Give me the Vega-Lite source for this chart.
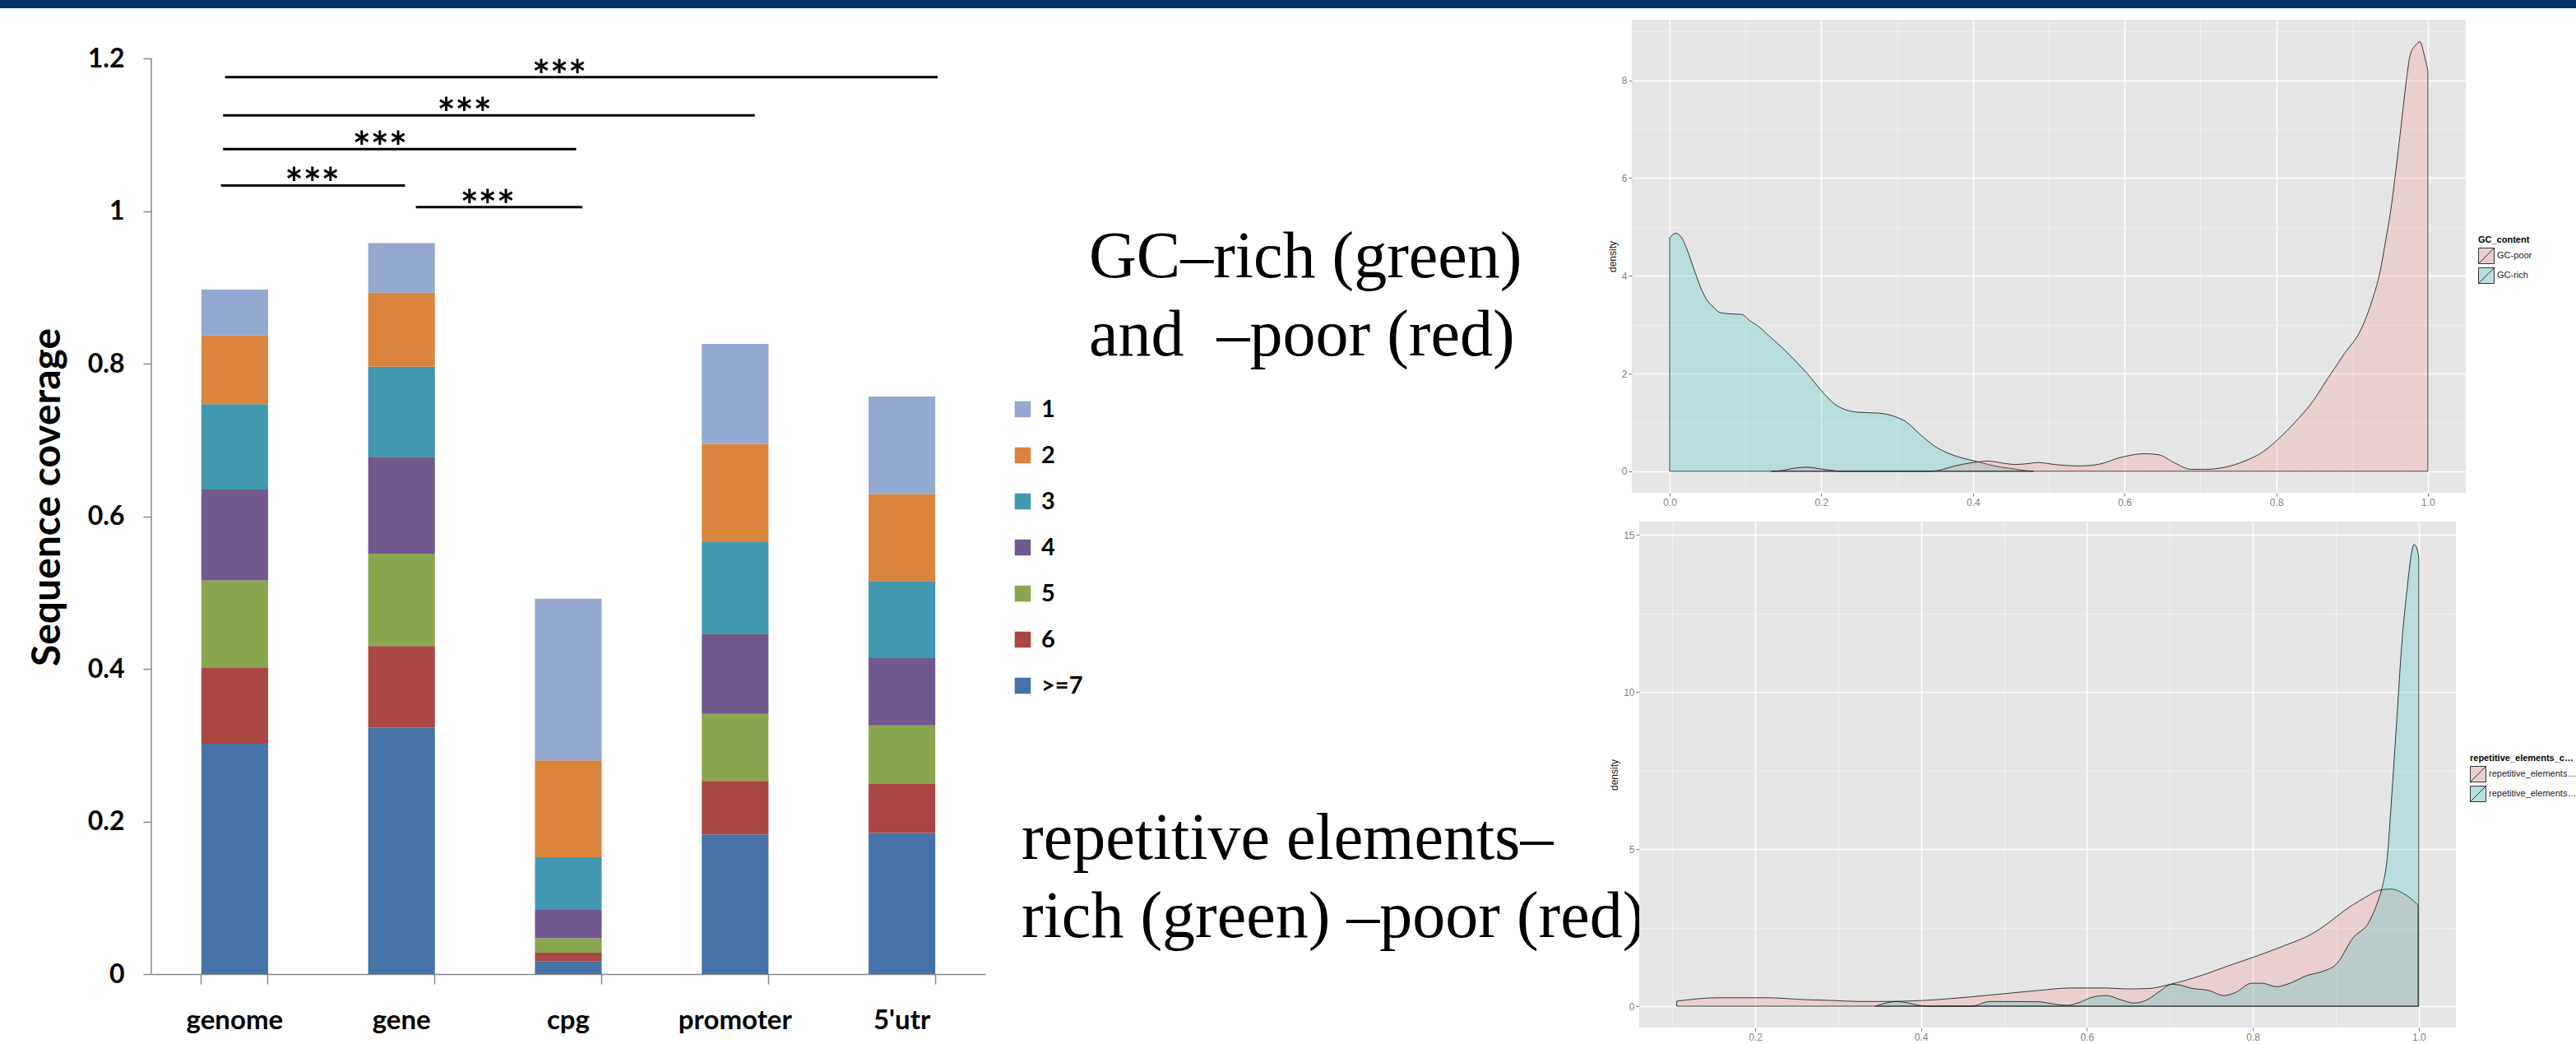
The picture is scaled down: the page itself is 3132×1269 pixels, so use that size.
{
  "$schema": "https://vega.github.io/schema/vega-lite/v6.json",
  "padding": 0,
  "background": "white",
  "bounds": "flush",
  "spacing": 14,
  "config": {"view": {"stroke": null}},
  "datasets": {
    "coverage": [
      {"region": "genome", "level": ">=7", "k": 7, "coverage": 0.302},
      {"region": "genome", "level": "6", "k": 6, "coverage": 0.100},
      {"region": "genome", "level": "5", "k": 5, "coverage": 0.114},
      {"region": "genome", "level": "4", "k": 4, "coverage": 0.119},
      {"region": "genome", "level": "3", "k": 3, "coverage": 0.112},
      {"region": "genome", "level": "2", "k": 2, "coverage": 0.090},
      {"region": "genome", "level": "1", "k": 1, "coverage": 0.060},
      {"region": "gene", "level": ">=7", "k": 7, "coverage": 0.323},
      {"region": "gene", "level": "6", "k": 6, "coverage": 0.107},
      {"region": "gene", "level": "5", "k": 5, "coverage": 0.121},
      {"region": "gene", "level": "4", "k": 4, "coverage": 0.127},
      {"region": "gene", "level": "3", "k": 3, "coverage": 0.118},
      {"region": "gene", "level": "2", "k": 2, "coverage": 0.097},
      {"region": "gene", "level": "1", "k": 1, "coverage": 0.065},
      {"region": "cpg", "level": ">=7", "k": 7, "coverage": 0.017},
      {"region": "cpg", "level": "6", "k": 6, "coverage": 0.011},
      {"region": "cpg", "level": "5", "k": 5, "coverage": 0.019},
      {"region": "cpg", "level": "4", "k": 4, "coverage": 0.037},
      {"region": "cpg", "level": "3", "k": 3, "coverage": 0.069},
      {"region": "cpg", "level": "2", "k": 2, "coverage": 0.127},
      {"region": "cpg", "level": "1", "k": 1, "coverage": 0.212},
      {"region": "promoter", "level": ">=7", "k": 7, "coverage": 0.183},
      {"region": "promoter", "level": "6", "k": 6, "coverage": 0.070},
      {"region": "promoter", "level": "5", "k": 5, "coverage": 0.088},
      {"region": "promoter", "level": "4", "k": 4, "coverage": 0.105},
      {"region": "promoter", "level": "3", "k": 3, "coverage": 0.120},
      {"region": "promoter", "level": "2", "k": 2, "coverage": 0.129},
      {"region": "promoter", "level": "1", "k": 1, "coverage": 0.131},
      {"region": "5'utr", "level": ">=7", "k": 7, "coverage": 0.185},
      {"region": "5'utr", "level": "6", "k": 6, "coverage": 0.064},
      {"region": "5'utr", "level": "5", "k": 5, "coverage": 0.077},
      {"region": "5'utr", "level": "4", "k": 4, "coverage": 0.088},
      {"region": "5'utr", "level": "3", "k": 3, "coverage": 0.101},
      {"region": "5'utr", "level": "2", "k": 2, "coverage": 0.114},
      {"region": "5'utr", "level": "1", "k": 1, "coverage": 0.128}
    ],
    "significance": [
      {"left": 0.442, "right": 4.714, "starAt": 2.446, "height": 1.1755, "stars": "***"},
      {"left": 0.430, "right": 3.618, "starAt": 1.877, "height": 1.1254, "stars": "***"},
      {"left": 0.430, "right": 2.547, "starAt": 1.370, "height": 1.0811, "stars": "***"},
      {"left": 0.417, "right": 1.521, "starAt": 0.965, "height": 1.0335, "stars": "***"},
      {"left": 1.586, "right": 2.584, "starAt": 2.016, "height": 1.0051, "stars": "***"}
    ],
    "captions": [
      {"block": "GC", "caption": "GC–rich (green)\nand \u00a0–poor (red)"},
      {"block": "repetitive", "caption": "repetitive elements–\nrich (green) –poor (red)"}
    ],
    "gcDensity": [
      {"gc": 0, "density": 4.78, "GC_content": "GC-rich"},
      {"gc": 0.0077, "density": 4.87, "GC_content": "GC-rich"},
      {"gc": 0.015, "density": 4.80, "GC_content": "GC-rich"},
      {"gc": 0.0228, "density": 4.54, "GC_content": "GC-rich"},
      {"gc": 0.0337, "density": 4.06, "GC_content": "GC-rich"},
      {"gc": 0.0409, "density": 3.76, "GC_content": "GC-rich"},
      {"gc": 0.0481, "density": 3.53, "GC_content": "GC-rich"},
      {"gc": 0.0589, "density": 3.34, "GC_content": "GC-rich"},
      {"gc": 0.0661, "density": 3.25, "GC_content": "GC-rich"},
      {"gc": 0.0806, "density": 3.22, "GC_content": "GC-rich"},
      {"gc": 0.095, "density": 3.21, "GC_content": "GC-rich"},
      {"gc": 0.1058, "density": 3.08, "GC_content": "GC-rich"},
      {"gc": 0.1167, "density": 2.97, "GC_content": "GC-rich"},
      {"gc": 0.131, "density": 2.77, "GC_content": "GC-rich"},
      {"gc": 0.149, "density": 2.52, "GC_content": "GC-rich"},
      {"gc": 0.167, "density": 2.24, "GC_content": "GC-rich"},
      {"gc": 0.182, "density": 1.99, "GC_content": "GC-rich"},
      {"gc": 0.2, "density": 1.65, "GC_content": "GC-rich"},
      {"gc": 0.218, "density": 1.37, "GC_content": "GC-rich"},
      {"gc": 0.232, "density": 1.26, "GC_content": "GC-rich"},
      {"gc": 0.247, "density": 1.21, "GC_content": "GC-rich"},
      {"gc": 0.276, "density": 1.19, "GC_content": "GC-rich"},
      {"gc": 0.297, "density": 1.12, "GC_content": "GC-rich"},
      {"gc": 0.312, "density": 1.01, "GC_content": "GC-rich"},
      {"gc": 0.33, "density": 0.76, "GC_content": "GC-rich"},
      {"gc": 0.348, "density": 0.53, "GC_content": "GC-rich"},
      {"gc": 0.369, "density": 0.36, "GC_content": "GC-rich"},
      {"gc": 0.384, "density": 0.28, "GC_content": "GC-rich"},
      {"gc": 0.405, "density": 0.20, "GC_content": "GC-rich"},
      {"gc": 0.42, "density": 0.14, "GC_content": "GC-rich"},
      {"gc": 0.438, "density": 0.084, "GC_content": "GC-rich"},
      {"gc": 0.456, "density": 0.045, "GC_content": "GC-rich"},
      {"gc": 0.47, "density": 0.012, "GC_content": "GC-rich"},
      {"gc": 0.48, "density": 0, "GC_content": "GC-rich"},
      {"gc": 0.134, "density": 0, "GC_content": "GC-poor"},
      {"gc": 0.15, "density": 0.02, "GC_content": "GC-poor"},
      {"gc": 0.166, "density": 0.067, "GC_content": "GC-poor"},
      {"gc": 0.181, "density": 0.084, "GC_content": "GC-poor"},
      {"gc": 0.2, "density": 0.045, "GC_content": "GC-poor"},
      {"gc": 0.218, "density": 0.01, "GC_content": "GC-poor"},
      {"gc": 0.224, "density": 0, "GC_content": "GC-poor"},
      {"gc": 0.344, "density": 0, "GC_content": "GC-poor"},
      {"gc": 0.355, "density": 0.02, "GC_content": "GC-poor"},
      {"gc": 0.376, "density": 0.11, "GC_content": "GC-poor"},
      {"gc": 0.401, "density": 0.18, "GC_content": "GC-poor"},
      {"gc": 0.42, "density": 0.21, "GC_content": "GC-poor"},
      {"gc": 0.438, "density": 0.17, "GC_content": "GC-poor"},
      {"gc": 0.456, "density": 0.14, "GC_content": "GC-poor"},
      {"gc": 0.474, "density": 0.16, "GC_content": "GC-poor"},
      {"gc": 0.4857, "density": 0.18, "GC_content": "GC-poor"},
      {"gc": 0.5073, "density": 0.14, "GC_content": "GC-poor"},
      {"gc": 0.5398, "density": 0.11, "GC_content": "GC-poor"},
      {"gc": 0.5651, "density": 0.14, "GC_content": "GC-poor"},
      {"gc": 0.5939, "density": 0.28, "GC_content": "GC-poor"},
      {"gc": 0.6265, "density": 0.36, "GC_content": "GC-poor"},
      {"gc": 0.6445, "density": 0.34, "GC_content": "GC-poor"},
      {"gc": 0.6662, "density": 0.17, "GC_content": "GC-poor"},
      {"gc": 0.6879, "density": 0.04, "GC_content": "GC-poor"},
      {"gc": 0.7059, "density": 0.04, "GC_content": "GC-poor"},
      {"gc": 0.7312, "density": 0.08, "GC_content": "GC-poor"},
      {"gc": 0.7601, "density": 0.22, "GC_content": "GC-poor"},
      {"gc": 0.7817, "density": 0.39, "GC_content": "GC-poor"},
      {"gc": 0.8034, "density": 0.67, "GC_content": "GC-poor"},
      {"gc": 0.8251, "density": 1.01, "GC_content": "GC-poor"},
      {"gc": 0.8467, "density": 1.40, "GC_content": "GC-poor"},
      {"gc": 0.8684, "density": 1.91, "GC_content": "GC-poor"},
      {"gc": 0.89, "density": 2.41, "GC_content": "GC-poor"},
      {"gc": 0.9117, "density": 2.90, "GC_content": "GC-poor"},
      {"gc": 0.9261, "density": 3.48, "GC_content": "GC-poor"},
      {"gc": 0.937, "density": 4.09, "GC_content": "GC-poor"},
      {"gc": 0.9442, "density": 4.71, "GC_content": "GC-poor"},
      {"gc": 0.9514, "density": 5.38, "GC_content": "GC-poor"},
      {"gc": 0.9587, "density": 6.28, "GC_content": "GC-poor"},
      {"gc": 0.9659, "density": 7.23, "GC_content": "GC-poor"},
      {"gc": 0.9713, "density": 7.96, "GC_content": "GC-poor"},
      {"gc": 0.9767, "density": 8.52, "GC_content": "GC-poor"},
      {"gc": 0.9839, "density": 8.72, "GC_content": "GC-poor"},
      {"gc": 0.9898, "density": 8.79, "GC_content": "GC-poor"},
      {"gc": 0.9947, "density": 8.55, "GC_content": "GC-poor"},
      {"gc": 1.0, "density": 8.2, "GC_content": "GC-poor"}
    ],
    "repDensity": [
      {"rep": 0.1054, "density": 0.16, "repetitive_elements_content": "repetitive_elements-poor"},
      {"rep": 0.1565, "density": 0.27, "repetitive_elements_content": "repetitive_elements-poor"},
      {"rep": 0.2126, "density": 0.27, "repetitive_elements_content": "repetitive_elements-poor"},
      {"rep": 0.2589, "density": 0.21, "repetitive_elements_content": "repetitive_elements-poor"},
      {"rep": 0.2952, "density": 0.18, "repetitive_elements_content": "repetitive_elements-poor"},
      {"rep": 0.3249, "density": 0.15, "repetitive_elements_content": "repetitive_elements-poor"},
      {"rep": 0.3579, "density": 0.15, "repetitive_elements_content": "repetitive_elements-poor"},
      {"rep": 0.4009, "density": 0.18, "repetitive_elements_content": "repetitive_elements-poor"},
      {"rep": 0.457, "density": 0.29, "repetitive_elements_content": "repetitive_elements-poor"},
      {"rep": 0.5409, "density": 0.50, "repetitive_elements_content": "repetitive_elements-poor"},
      {"rep": 0.5805, "density": 0.58, "repetitive_elements_content": "repetitive_elements-poor"},
      {"rep": 0.6235, "density": 0.58, "repetitive_elements_content": "repetitive_elements-poor"},
      {"rep": 0.6465, "density": 0.55, "repetitive_elements_content": "repetitive_elements-poor"},
      {"rep": 0.673, "density": 0.56, "repetitive_elements_content": "repetitive_elements-poor"},
      {"rep": 0.6994, "density": 0.69, "repetitive_elements_content": "repetitive_elements-poor"},
      {"rep": 0.7392, "density": 0.99, "repetitive_elements_content": "repetitive_elements-poor"},
      {"rep": 0.7722, "density": 1.30, "repetitive_elements_content": "repetitive_elements-poor"},
      {"rep": 0.805, "density": 1.60, "repetitive_elements_content": "repetitive_elements-poor"},
      {"rep": 0.8381, "density": 1.93, "repetitive_elements_content": "repetitive_elements-poor"},
      {"rep": 0.8711, "density": 2.30, "repetitive_elements_content": "repetitive_elements-poor"},
      {"rep": 0.891, "density": 2.65, "repetitive_elements_content": "repetitive_elements-poor"},
      {"rep": 0.9107, "density": 3.05, "repetitive_elements_content": "repetitive_elements-poor"},
      {"rep": 0.934, "density": 3.44, "repetitive_elements_content": "repetitive_elements-poor"},
      {"rep": 0.9537, "density": 3.70, "repetitive_elements_content": "repetitive_elements-poor"},
      {"rep": 0.967, "density": 3.73, "repetitive_elements_content": "repetitive_elements-poor"},
      {"rep": 0.98, "density": 3.61, "repetitive_elements_content": "repetitive_elements-poor"},
      {"rep": 0.99, "density": 3.44, "repetitive_elements_content": "repetitive_elements-poor"},
      {"rep": 0.9991, "density": 3.22, "repetitive_elements_content": "repetitive_elements-poor"},
      {"rep": 0.3447, "density": 0, "repetitive_elements_content": "repetitive_elements-rich"},
      {"rep": 0.3712, "density": 0.15, "repetitive_elements_content": "repetitive_elements-rich"},
      {"rep": 0.4075, "density": 0, "repetitive_elements_content": "repetitive_elements-rich"},
      {"rep": 0.4603, "density": 0, "repetitive_elements_content": "repetitive_elements-rich"},
      {"rep": 0.4834, "density": 0.15, "repetitive_elements_content": "repetitive_elements-rich"},
      {"rep": 0.5428, "density": 0.14, "repetitive_elements_content": "repetitive_elements-rich"},
      {"rep": 0.5574, "density": 0.08, "repetitive_elements_content": "repetitive_elements-rich"},
      {"rep": 0.5772, "density": 0.03, "repetitive_elements_content": "repetitive_elements-rich"},
      {"rep": 0.591, "density": 0.12, "repetitive_elements_content": "repetitive_elements-rich"},
      {"rep": 0.6069, "density": 0.29, "repetitive_elements_content": "repetitive_elements-rich"},
      {"rep": 0.6235, "density": 0.34, "repetitive_elements_content": "repetitive_elements-rich"},
      {"rep": 0.64, "density": 0.21, "repetitive_elements_content": "repetitive_elements-rich"},
      {"rep": 0.6565, "density": 0.10, "repetitive_elements_content": "repetitive_elements-rich"},
      {"rep": 0.673, "density": 0.21, "repetitive_elements_content": "repetitive_elements-rich"},
      {"rep": 0.6895, "density": 0.51, "repetitive_elements_content": "repetitive_elements-rich"},
      {"rep": 0.7027, "density": 0.70, "repetitive_elements_content": "repetitive_elements-rich"},
      {"rep": 0.7126, "density": 0.67, "repetitive_elements_content": "repetitive_elements-rich"},
      {"rep": 0.7258, "density": 0.57, "repetitive_elements_content": "repetitive_elements-rich"},
      {"rep": 0.7456, "density": 0.51, "repetitive_elements_content": "repetitive_elements-rich"},
      {"rep": 0.7654, "density": 0.34, "repetitive_elements_content": "repetitive_elements-rich"},
      {"rep": 0.7786, "density": 0.43, "repetitive_elements_content": "repetitive_elements-rich"},
      {"rep": 0.7984, "density": 0.73, "repetitive_elements_content": "repetitive_elements-rich"},
      {"rep": 0.8117, "density": 0.73, "repetitive_elements_content": "repetitive_elements-rich"},
      {"rep": 0.8281, "density": 0.62, "repetitive_elements_content": "repetitive_elements-rich"},
      {"rep": 0.8447, "density": 0.73, "repetitive_elements_content": "repetitive_elements-rich"},
      {"rep": 0.8645, "density": 0.97, "repetitive_elements_content": "repetitive_elements-rich"},
      {"rep": 0.8843, "density": 1.11, "repetitive_elements_content": "repetitive_elements-rich"},
      {"rep": 0.9007, "density": 1.34, "repetitive_elements_content": "repetitive_elements-rich"},
      {"rep": 0.9206, "density": 2.17, "repetitive_elements_content": "repetitive_elements-rich"},
      {"rep": 0.9405, "density": 2.70, "repetitive_elements_content": "repetitive_elements-rich"},
      {"rep": 0.9503, "density": 3.31, "repetitive_elements_content": "repetitive_elements-rich"},
      {"rep": 0.9563, "density": 3.83, "repetitive_elements_content": "repetitive_elements-rich"},
      {"rep": 0.9619, "density": 4.70, "repetitive_elements_content": "repetitive_elements-rich"},
      {"rep": 0.9668, "density": 6.45, "repetitive_elements_content": "repetitive_elements-rich"},
      {"rep": 0.9734, "density": 9.07, "repetitive_elements_content": "repetitive_elements-rich"},
      {"rep": 0.98, "density": 11.69, "repetitive_elements_content": "repetitive_elements-rich"},
      {"rep": 0.9866, "density": 13.44, "repetitive_elements_content": "repetitive_elements-rich"},
      {"rep": 0.9905, "density": 14.3, "repetitive_elements_content": "repetitive_elements-rich"},
      {"rep": 0.9942, "density": 14.7, "repetitive_elements_content": "repetitive_elements-rich"},
      {"rep": 0.9975, "density": 14.6, "repetitive_elements_content": "repetitive_elements-rich"},
      {"rep": 1.0, "density": 14.3, "repetitive_elements_content": "repetitive_elements-rich"}
    ]
  },
  "vconcat": [
    {
      "width": 3132,
      "height": 10,
      "view": {"fill": "#003366", "stroke": null},
      "data": {"values": []},
      "mark": "point",
      "encoding": {}
    },
    {
      "bounds": "flush",
      "spacing": 0,
      "hconcat": [
        {"width": 184, "height": 10, "data": {"values": []}, "mark": "point", "encoding": {}},
        {
          "width": 1014,
          "height": 1160,
          "resolve": {"scale": {"x": "independent", "color": "independent"}},
          "layer": [
            {
              "data": {"name": "coverage"},
              "mark": {"type": "bar"},
              "encoding": {
                "x": {
                  "field": "region", "type": "nominal",
                  "sort": ["genome", "gene", "cpg", "promoter", "5'utr"],
                  "scale": {"paddingInner": 0.6, "paddingOuter": 0.3},
                  "axis": {
                    "title": null, "labelAngle": 0, "grid": false,
                    "labelFont": "Lato", "labelFontWeight": "bold", "labelFontSize": 33, "labelColor": "black",
                    "labelBaseline": "alphabetic", "labelPadding": 54,
                    "tickSize": 12, "tickColor": "#898989", "tickWidth": 1.5,
                    "domainColor": "#898989", "domainWidth": 1.5,
                    "bandPosition": 1, "tickExtra": true
                  }
                },
                "y": {
                  "field": "coverage", "type": "quantitative", "stack": "zero",
                  "title": "Sequence coverage",
                  "scale": {"domain": [0, 1.2507], "nice": false},
                  "axis": {
                    "values": [0, 0.2, 0.4, 0.6, 0.8, 1, 1.2], "format": "~g", "grid": false, "domain": false,
                    "labelFont": "Lato", "labelFontWeight": "bold", "labelFontSize": 32, "labelColor": "black",
                    "labelPadding": 23, "tickSize": 10, "tickColor": "#898989", "tickWidth": 1.5,
                    "titleFont": "Lato", "titleFontSize": 48, "titleFontWeight": "bold", "titleColor": "black",
                    "titlePadding": 24
                  }
                },
                "color": {
                  "field": "level", "type": "nominal",
                  "scale": {
                    "domain": ["1", "2", "3", "4", "5", "6", ">=7"],
                    "range": ["#93A9CF", "#DB843D", "#4198AF", "#71588F", "#89A54E", "#AA4643", "#4572A7"]
                  },
                  "legend": {
                    "title": null, "orient": "none", "legendX": 1045, "legendY": 459,
                    "symbolType": "square", "symbolSize": 380, "symbolStrokeWidth": 0,
                    "labelFont": "Lato", "labelFontWeight": "bold", "labelFontSize": 29, "labelColor": "black",
                    "labelOffset": 8, "rowPadding": 26, "padding": 0
                  }
                },
                "order": {"field": "k", "sort": "descending"}
              }
            },
            {
              "data": {"values": [{}]},
              "mark": {"type": "rule", "color": "#898989", "strokeWidth": 1.5},
              "encoding": {
                "x": {"datum": 0, "type": "quantitative", "scale": {"domain": [0, 5], "nice": false, "zero": false}, "axis": null},
                "y": {"datum": 0, "type": "quantitative", "title": "Sequence coverage"},
                "y2": {"datum": 1.2}
              }
            },
            {
              "data": {"name": "significance"},
              "mark": {"type": "rule", "color": "black", "strokeWidth": 3},
              "encoding": {
                "x": {"field": "left", "type": "quantitative", "scale": {"domain": [0, 5], "nice": false, "zero": false}, "axis": null},
                "x2": {"field": "right"},
                "y": {"field": "height", "type": "quantitative", "title": "Sequence coverage"}
              }
            },
            {
              "data": {"name": "significance"},
              "mark": {"type": "text", "font": "Lato", "fontWeight": "bold", "fontSize": 52, "baseline": "alphabetic", "dy": 17, "color": "black"},
              "encoding": {
                "x": {"field": "starAt", "type": "quantitative", "scale": {"domain": [0, 5], "nice": false, "zero": false}, "axis": null},
                "y": {"field": "height", "type": "quantitative", "title": "Sequence coverage"},
                "text": {"field": "stars"}
              }
            }
          ]
        },
        {
          "width": 246,
          "height": 1225,
          "data": {"name": "captions"},
          "mark": {"type": "text", "align": "left", "baseline": "alphabetic", "font": "Liberation Serif", "fontSize": 80, "lineBreak": "\n", "lineHeight": 95.5, "color": "black"},
          "encoding": {
            "x": {"field": "block", "type": "nominal", "sort": ["repetitive", "GC"], "scale": {"type": "point", "padding": 1, "align": 0.2683}, "axis": null},
            "y": {"field": "block", "type": "nominal", "sort": ["GC", "repetitive"], "scale": {"type": "point", "padding": 0.3663, "align": 0.6042}, "axis": null},
            "text": {"field": "caption"}
          }
        },
        {"width": 540, "height": 10, "data": {"values": []}, "mark": "point", "encoding": {}},
        {
          "bounds": "flush",
          "spacing": 35,
          "vconcat": [
            {
              "width": 1014,
              "height": 575,
              "view": {"fill": "#E5E5E5", "stroke": null},
              "resolve": {"scale": {"fill": "independent"}},
              "layer": [
                {
                  "data": {"name": "gcDensity"},
                  "mark": {"type": "area", "interpolate": "monotone", "fillOpacity": 0.2, "stroke": "#1a1a1a", "strokeWidth": 1, "strokeOpacity": 0.85},
                  "encoding": {
                    "x": {
                      "field": "gc", "type": "quantitative",
                      "scale": {"domain": [-0.05, 1.05], "nice": false, "zero": false},
                      "axis": {
                        "title": null, "domain": false,
                        "values": [0, 0.1, 0.2, 0.3, 0.4, 0.5, 0.6, 0.7, 0.8, 0.9, 1.0],
                        "format": ".1f",
                        "labelExpr": "round(datum.value*10) % 2 == 1 ? '' : datum.label",
                        "labelFont": "Liberation Sans", "labelFontSize": 12, "labelColor": "#7F7F7F", "labelPadding": 2,
                        "tickSize": 4, "tickColor": "#7F7F7F",
                        "tickOpacity": {"condition": {"test": "round(datum.value*10) % 2 == 1", "value": 0}, "value": 1},
                        "gridColor": {"condition": {"test": "round(datum.value*10) % 2 == 1", "value": "#F2F2F2"}, "value": "#FFFFFF"},
                        "gridWidth": {"condition": {"test": "round(datum.value*10) % 2 == 1", "value": 0.8}, "value": 1.5}
                      }
                    },
                    "y": {
                      "field": "density", "type": "quantitative", "stack": null,
                      "scale": {"domain": [-0.44, 9.24], "nice": false, "zero": false},
                      "axis": {
                        "title": "density", "domain": false,
                        "values": [0, 1, 2, 3, 4, 5, 6, 7, 8, 9],
                        "labelExpr": "datum.value % 2 == 1 ? '' : datum.label",
                        "labelFont": "Liberation Sans", "labelFontSize": 12, "labelColor": "#7F7F7F", "labelPadding": 2,
                        "tickSize": 4, "tickColor": "#7F7F7F",
                        "tickOpacity": {"condition": {"test": "datum.value % 2 == 1", "value": 0}, "value": 1},
                        "gridColor": {"condition": {"test": "datum.value % 2 == 1", "value": "#F2F2F2"}, "value": "#FFFFFF"},
                        "gridWidth": {"condition": {"test": "datum.value % 2 == 1", "value": 0.8}, "value": 1.5},
                        "titleFont": "Liberation Sans", "titleFontSize": 12, "titleFontWeight": "normal", "titleColor": "#1a1a1a", "titlePadding": 4
                      }
                    },
                    "fill": {
                      "field": "GC_content", "type": "nominal",
                      "scale": {"domain": ["GC-poor", "GC-rich"], "range": ["#F8766D", "#00BFC4"]},
                      "legend": null
                    }
                  }
                },
                {
                  "data": {"values": []},
                  "mark": {"type": "point", "filled": true},
                  "encoding": {
                    "fill": {
                      "field": "GC_content", "type": "nominal",
                      "scale": {"domain": ["GC-poor", "GC-rich"], "range": ["#EACFD0", "#B8DEDF"]},
                      "legend": {
                        "title": "GC_content", "orient": "none", "legendX": 1029, "legendY": 262,
                        "symbolType": "M-1,-1H1V1H-1ZM-1,1L1,-1", "symbolSize": 361,
                        "symbolStrokeColor": "#333333", "symbolStrokeWidth": 1, "symbolOpacity": 1,
                        "titleFont": "Liberation Sans", "titleFontSize": 11, "titleFontWeight": "bold", "titleColor": "black", "titlePadding": 4,
                        "labelFont": "Liberation Sans", "labelFontSize": 11, "labelColor": "#1a1a1a", "labelOffset": 3,
                        "rowPadding": 0, "padding": 0
                      }
                    }
                  }
                }
              ]
            },
            {
              "bounds": "flush",
              "spacing": 0,
              "hconcat": [
                {"width": 9, "height": 615, "data": {"values": []}, "mark": "point", "encoding": {}},
                {
                  "width": 993,
                  "height": 615,
                  "view": {"fill": "#E5E5E5", "stroke": null},
                  "resolve": {"scale": {"fill": "independent"}},
                  "layer": [
                    {
                      "data": {"name": "repDensity"},
                      "mark": {"type": "area", "interpolate": "monotone", "fillOpacity": 0.2, "stroke": "#1a1a1a", "strokeWidth": 1, "strokeOpacity": 0.85},
                      "encoding": {
                        "x": {
                          "field": "rep", "type": "quantitative",
                          "scale": {"domain": [0.0602, 1.0448], "nice": false, "zero": false},
                          "axis": {
                            "title": null, "domain": false,
                            "values": [0.1, 0.2, 0.3, 0.4, 0.5, 0.6, 0.7, 0.8, 0.9, 1.0],
                            "format": ".1f",
                            "labelExpr": "round(datum.value*10) % 2 == 1 ? '' : datum.label",
                            "labelFont": "Liberation Sans", "labelFontSize": 12, "labelColor": "#7F7F7F", "labelPadding": 2,
                            "tickSize": 4, "tickColor": "#7F7F7F",
                            "tickOpacity": {"condition": {"test": "round(datum.value*10) % 2 == 1", "value": 0}, "value": 1},
                            "gridColor": {"condition": {"test": "round(datum.value*10) % 2 == 1", "value": "#F2F2F2"}, "value": "#FFFFFF"},
                            "gridWidth": {"condition": {"test": "round(datum.value*10) % 2 == 1", "value": 0.8}, "value": 1.5}
                          }
                        },
                        "y": {
                          "field": "density", "type": "quantitative", "stack": null,
                          "scale": {"domain": [-0.68, 15.43], "nice": false, "zero": false},
                          "axis": {
                            "title": "density", "domain": false,
                            "values": [0, 2.5, 5, 7.5, 10, 12.5, 15],
                            "labelExpr": "datum.value % 5 != 0 ? '' : datum.label",
                            "labelFont": "Liberation Sans", "labelFontSize": 12, "labelColor": "#7F7F7F", "labelPadding": 2,
                            "tickSize": 4, "tickColor": "#7F7F7F",
                            "tickOpacity": {"condition": {"test": "datum.value % 5 != 0", "value": 0}, "value": 1},
                            "gridColor": {"condition": {"test": "datum.value % 5 != 0", "value": "#F2F2F2"}, "value": "#FFFFFF"},
                            "gridWidth": {"condition": {"test": "datum.value % 5 != 0", "value": 0.8}, "value": 1.5},
                            "titleFont": "Liberation Sans", "titleFontSize": 12, "titleFontWeight": "normal", "titleColor": "#1a1a1a", "titlePadding": 4
                          }
                        },
                        "fill": {
                          "field": "repetitive_elements_content", "type": "nominal",
                          "scale": {"domain": ["repetitive_elements-poor", "repetitive_elements-rich"], "range": ["#F8766D", "#00BFC4"]},
                          "legend": null
                        }
                      }
                    },
                    {
                      "data": {"values": []},
                      "mark": {"type": "point", "filled": true},
                      "encoding": {
                        "fill": {
                          "field": "repetitive_elements_content", "type": "nominal",
                          "scale": {"domain": ["repetitive_elements-poor", "repetitive_elements-rich"], "range": ["#EACFD0", "#B8DEDF"]},
                          "legend": {
                            "title": "repetitive_elements_content", "orient": "none", "legendX": 1010, "legendY": 282,
                            "symbolType": "M-1,-1H1V1H-1ZM-1,1L1,-1", "symbolSize": 361,
                            "symbolStrokeColor": "#333333", "symbolStrokeWidth": 1, "symbolOpacity": 1,
                            "titleFont": "Liberation Sans", "titleFontSize": 11, "titleFontWeight": "bold", "titleColor": "black", "titlePadding": 4, "titleLimit": 128,
                            "labelFont": "Liberation Sans", "labelFontSize": 11, "labelColor": "#1a1a1a", "labelOffset": 3, "labelLimit": 110,
                            "rowPadding": 0, "padding": 0
                          }
                        }
                      }
                    }
                  ]
                }
              ]
            }
          ]
        }
      ]
    }
  ]
}
